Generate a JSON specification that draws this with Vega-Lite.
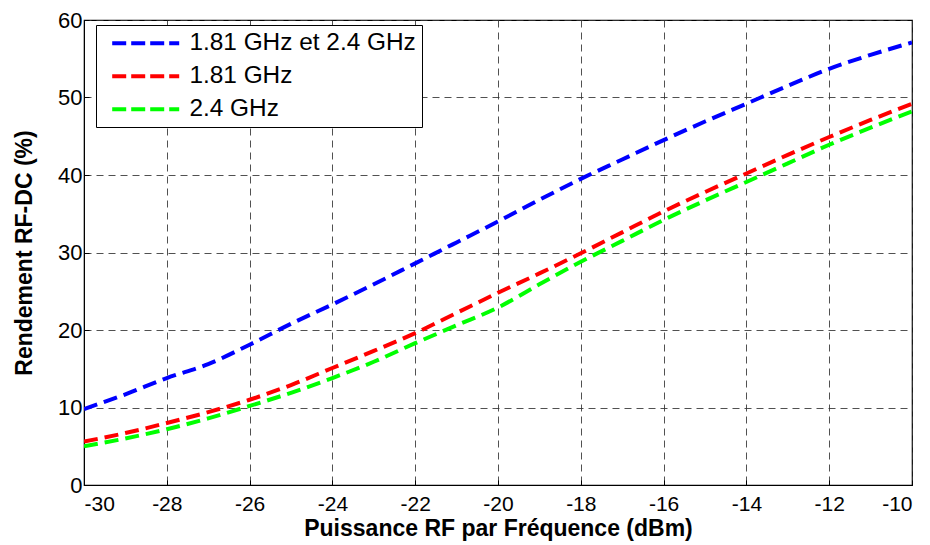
{
  "$schema": "https://vega.github.io/schema/vega-lite/v6.json",
  "width": 828,
  "height": 465,
  "autosize": {"type": "none"},
  "padding": {"left": 84, "top": 20, "right": 18, "bottom": 60},
  "background": "white",
  "config": {
    "font": "Liberation Sans",
    "view": {"stroke": "black", "strokeWidth": 1.2},
    "axis": {
      "labelFont": "Liberation Sans",
      "labelFontSize": 22,
      "labelColor": "black",
      "titleFont": "Liberation Sans",
      "titleFontWeight": "bold",
      "titleColor": "black",
      "grid": true,
      "gridColor": "#333333",
      "gridDash": [7, 5],
      "gridWidth": 1,
      "gridOpacity": 0.85,
      "domainColor": "black",
      "tickColor": "black",
      "tickSize": -5,
      "labelExpr": "'' + datum.value"
    }
  },
  "data": {
    "values": [
      {"x": -30, "y": 9.8, "s": "1.81 GHz et 2.4 GHz"},
      {"x": -29, "y": 11.7, "s": "1.81 GHz et 2.4 GHz"},
      {"x": -28, "y": 13.8, "s": "1.81 GHz et 2.4 GHz"},
      {"x": -27, "y": 15.6, "s": "1.81 GHz et 2.4 GHz"},
      {"x": -26, "y": 18.1, "s": "1.81 GHz et 2.4 GHz"},
      {"x": -25, "y": 20.8, "s": "1.81 GHz et 2.4 GHz"},
      {"x": -24, "y": 23.3, "s": "1.81 GHz et 2.4 GHz"},
      {"x": -23, "y": 25.9, "s": "1.81 GHz et 2.4 GHz"},
      {"x": -22, "y": 28.6, "s": "1.81 GHz et 2.4 GHz"},
      {"x": -21, "y": 31.3, "s": "1.81 GHz et 2.4 GHz"},
      {"x": -20, "y": 34.0, "s": "1.81 GHz et 2.4 GHz"},
      {"x": -19, "y": 36.8, "s": "1.81 GHz et 2.4 GHz"},
      {"x": -18, "y": 39.5, "s": "1.81 GHz et 2.4 GHz"},
      {"x": -17, "y": 42.0, "s": "1.81 GHz et 2.4 GHz"},
      {"x": -16, "y": 44.5, "s": "1.81 GHz et 2.4 GHz"},
      {"x": -15, "y": 46.9, "s": "1.81 GHz et 2.4 GHz"},
      {"x": -14, "y": 49.2, "s": "1.81 GHz et 2.4 GHz"},
      {"x": -13, "y": 51.5, "s": "1.81 GHz et 2.4 GHz"},
      {"x": -12, "y": 53.7, "s": "1.81 GHz et 2.4 GHz"},
      {"x": -11, "y": 55.5, "s": "1.81 GHz et 2.4 GHz"},
      {"x": -10, "y": 57.1, "s": "1.81 GHz et 2.4 GHz"},
      {"x": -30, "y": 5.6, "s": "1.81 GHz"},
      {"x": -29, "y": 6.7, "s": "1.81 GHz"},
      {"x": -28, "y": 8.0, "s": "1.81 GHz"},
      {"x": -27, "y": 9.4, "s": "1.81 GHz"},
      {"x": -26, "y": 11.0, "s": "1.81 GHz"},
      {"x": -25, "y": 12.9, "s": "1.81 GHz"},
      {"x": -24, "y": 15.1, "s": "1.81 GHz"},
      {"x": -23, "y": 17.3, "s": "1.81 GHz"},
      {"x": -22, "y": 19.6, "s": "1.81 GHz"},
      {"x": -21, "y": 22.2, "s": "1.81 GHz"},
      {"x": -20, "y": 24.8, "s": "1.81 GHz"},
      {"x": -19, "y": 27.3, "s": "1.81 GHz"},
      {"x": -18, "y": 29.9, "s": "1.81 GHz"},
      {"x": -17, "y": 32.6, "s": "1.81 GHz"},
      {"x": -16, "y": 35.3, "s": "1.81 GHz"},
      {"x": -15, "y": 37.8, "s": "1.81 GHz"},
      {"x": -14, "y": 40.2, "s": "1.81 GHz"},
      {"x": -13, "y": 42.6, "s": "1.81 GHz"},
      {"x": -12, "y": 44.9, "s": "1.81 GHz"},
      {"x": -11, "y": 47.1, "s": "1.81 GHz"},
      {"x": -10, "y": 49.2, "s": "1.81 GHz"},
      {"x": -30, "y": 5.0, "s": "2.4 GHz"},
      {"x": -29, "y": 6.0, "s": "2.4 GHz"},
      {"x": -28, "y": 7.2, "s": "2.4 GHz"},
      {"x": -27, "y": 8.6, "s": "2.4 GHz"},
      {"x": -26, "y": 10.2, "s": "2.4 GHz"},
      {"x": -25, "y": 11.9, "s": "2.4 GHz"},
      {"x": -24, "y": 13.8, "s": "2.4 GHz"},
      {"x": -23, "y": 15.9, "s": "2.4 GHz"},
      {"x": -22, "y": 18.3, "s": "2.4 GHz"},
      {"x": -21, "y": 20.6, "s": "2.4 GHz"},
      {"x": -20, "y": 22.9, "s": "2.4 GHz"},
      {"x": -19, "y": 25.9, "s": "2.4 GHz"},
      {"x": -18, "y": 28.8, "s": "2.4 GHz"},
      {"x": -17, "y": 31.5, "s": "2.4 GHz"},
      {"x": -16, "y": 34.2, "s": "2.4 GHz"},
      {"x": -15, "y": 36.7, "s": "2.4 GHz"},
      {"x": -14, "y": 39.1, "s": "2.4 GHz"},
      {"x": -13, "y": 41.5, "s": "2.4 GHz"},
      {"x": -12, "y": 43.9, "s": "2.4 GHz"},
      {"x": -11, "y": 46.1, "s": "2.4 GHz"},
      {"x": -10, "y": 48.2, "s": "2.4 GHz"}
    ]
  },
  "mark": {"type": "line", "strokeWidth": 4, "strokeDash": [14, 7], "interpolate": "monotone", "clip": true},
  "encoding": {
    "x": {
      "field": "x", "type": "quantitative",
      "scale": {"domain": [-30, -10], "nice": false, "zero": false},
      "axis": {"values": [-30, -28, -26, -24, -22, -20, -18, -16, -14, -12, -10], "labelFontSize": 21, "title": "Puissance RF par Fréquence (dBm)", "titleFontSize": 23, "titlePadding": 3, "labelPadding": 13}
    },
    "y": {
      "field": "y", "type": "quantitative",
      "scale": {"domain": [0, 60], "nice": false},
      "axis": {"values": [0, 10, 20, 30, 40, 50, 60], "title": "Rendement RF-DC (%)", "titleFontSize": 23, "titlePadding": 21, "labelPadding": 7}
    },
    "color": {
      "field": "s", "type": "nominal",
      "scale": {"domain": ["1.81 GHz et 2.4 GHz", "1.81 GHz", "2.4 GHz"], "range": ["#0000ff", "#ff0000", "#00ff00"]},
      "legend": {
        "title": null,
        "orient": "none",
        "legendX": 12,
        "legendY": 5,
        "symbolType": "M-0.2,0H6.5",
        "symbolStrokeWidth": 4,
        "symbolDash": [14, 5],
        "symbolSize": 400,
        "symbolFillColor": "transparent",
        "labelFontSize": 24.4,
        "labelFont": "Liberation Sans",
        "labelColor": "black",
        "labelLimit": 0,
        "strokeColor": "black",
        "fillColor": "white",
        "padding": 6,
        "rowPadding": 8,
        "labelOffset": 63
      }
    }
  }
}
